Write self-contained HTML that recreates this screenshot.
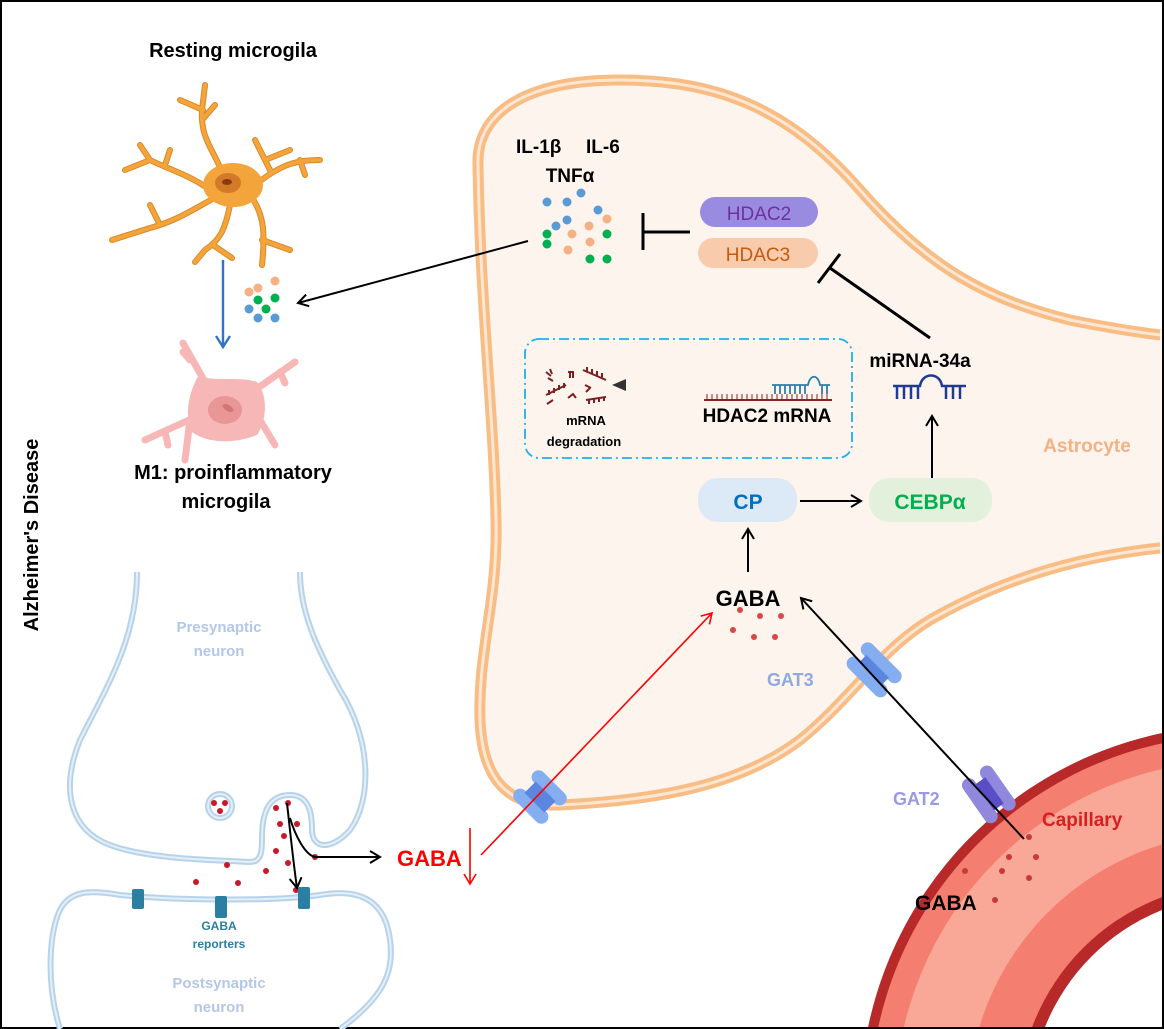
<!DOCTYPE html>
<html><head><meta charset="utf-8"><style>
html,body{margin:0;padding:0;background:#fff;width:1164px;height:1029px;overflow:hidden}
svg{display:block}
text{font-family:"Liberation Sans",sans-serif;font-weight:bold}
</style></head><body>
<svg width="1164" height="1029" viewBox="0 0 1164 1029" xmlns="http://www.w3.org/2000/svg">
<defs>
<marker id="ab" markerWidth="14" markerHeight="14" refX="11" refY="7" orient="auto" markerUnits="userSpaceOnUse"><path d="M1,1 L11,7 L1,13" fill="none" stroke="#000" stroke-width="2"/></marker>
<marker id="ar" markerWidth="14" markerHeight="14" refX="11" refY="7" orient="auto" markerUnits="userSpaceOnUse"><path d="M1,1 L11,7 L1,13" fill="none" stroke="#f00" stroke-width="1.6"/></marker>
<marker id="abl" markerWidth="16" markerHeight="16" refX="12" refY="8" orient="auto" markerUnits="userSpaceOnUse"><path d="M1,1 L12,8 L1,15" fill="none" stroke="#2e75c4" stroke-width="2.4"/></marker>
<linearGradient id="gg" x1="0" x2="1"><stop offset="0" stop-color="#333"/><stop offset="1" stop-color="#ddd"/></linearGradient>
</defs>
<rect x="1" y="1" width="1162" height="1027" fill="#fff" stroke="#000" stroke-width="2"/>

<!-- Capillary -->
<g>
<circle cx="1240" cy="1105" r="380" fill="#b82a2a"/>
<circle cx="1240" cy="1105" r="370" fill="#f47e6f"/>
<circle cx="1240" cy="1105" r="345" fill="#f9a898"/>
<circle cx="1240" cy="1105" r="272" fill="#f47e6f"/>
<circle cx="1240" cy="1105" r="222" fill="#b82a2a"/>
<circle cx="1240" cy="1105" r="210" fill="#fff"/>
</g>

<!-- Astrocyte -->
<path d="M478,165 C476,110 530,80 620,80 C720,80 790,110 860,190 C930,270 990,300 1070,320 C1120,330 1150,334 1170,336 L1170,547 C1080,555 1000,580 930,620 C880,650 850,700 800,740 C740,785 660,800 560,805 C500,808 482,770 480,720 C478,650 498,600 496,520 C494,420 480,300 478,165 Z" fill="#fdf4ee" stroke="#f8bd85" stroke-width="11"/>
<path d="M478,165 C476,110 530,80 620,80 C720,80 790,110 860,190 C930,270 990,300 1070,320 C1120,330 1150,334 1170,336 M1170,547 C1080,555 1000,580 930,620 C880,650 850,700 800,740 C740,785 660,800 560,805 C500,808 482,770 480,720 C478,650 498,600 496,520 C494,420 480,300 478,165" fill="none" stroke="#fde6d2" stroke-width="3"/>
<rect x="1160" y="330" width="5" height="225" fill="#fdf4ee"/>
<rect x="1" y="1" width="1162" height="1027" fill="none" stroke="#000" stroke-width="2"/>

<!-- channels -->
<g transform="translate(540,797) rotate(45)"><rect x="-22" y="-20" width="44" height="14" rx="7" fill="#85aef0"/><rect x="-22" y="6" width="44" height="14" rx="7" fill="#85aef0"/><rect x="-14" y="-8" width="28" height="16" fill="#5a86e0"/></g>
<g transform="translate(872,672) rotate(-45)"><rect x="-14" y="-26" width="14" height="52" rx="7" fill="#85aef0"/><rect x="6" y="-26" width="14" height="52" rx="7" fill="#85aef0"/><rect x="-2" y="-16" width="10" height="32" fill="#5a86e0"/></g>
<g transform="translate(988,795) rotate(-35)"><rect x="-17" y="-26" width="14" height="52" rx="7" fill="#8f88dd"/><rect x="5" y="-26" width="14" height="52" rx="7" fill="#8f88dd"/><rect x="-4" y="-16" width="12" height="32" fill="#5a4ec8"/></g>

<!-- Resting microglia -->
<text x="233" y="57" font-size="20" text-anchor="middle">Resting microgila</text>
<g stroke="#d98a2a" stroke-width="6" fill="none" stroke-linecap="round" stroke-linejoin="round">
<path d="M225,180 C215,150 200,140 202,110 L205,85 M202,120 L215,105 M203,110 L180,100"/>
<path d="M210,190 C190,175 170,170 150,160 L125,170 M165,165 L170,150 M150,160 L140,145"/>
<path d="M220,195 C200,205 180,220 150,228 L112,240 M160,225 L150,205"/>
<path d="M230,205 C225,230 220,240 205,250 L195,262 M213,245 L232,258"/>
<path d="M250,195 C265,215 265,235 262,265 M262,240 L290,250"/>
<path d="M255,185 C280,165 295,160 320,160 M300,160 L305,175 M270,170 L255,140 M265,160 L290,150"/>
</g>
<g stroke="#f3a43a" stroke-width="4" fill="none" stroke-linecap="round" stroke-linejoin="round">
<path d="M225,180 C215,150 200,140 202,110 L205,85 M202,120 L215,105 M203,110 L180,100"/>
<path d="M210,190 C190,175 170,170 150,160 L125,170 M165,165 L170,150 M150,160 L140,145"/>
<path d="M220,195 C200,205 180,220 150,228 L112,240 M160,225 L150,205"/>
<path d="M230,205 C225,230 220,240 205,250 L195,262 M213,245 L232,258"/>
<path d="M250,195 C265,215 265,235 262,265 M262,240 L290,250"/>
<path d="M255,185 C280,165 295,160 320,160 M300,160 L305,175 M270,170 L255,140 M265,160 L290,150"/>
</g>
<ellipse cx="233" cy="185" rx="30" ry="22" fill="#f3a43a"/>
<ellipse cx="228" cy="183" rx="13" ry="10" fill="#d37a2a"/>
<ellipse cx="227" cy="182" rx="5" ry="3" fill="#8a3a10"/>

<line x1="223" y1="260" x2="223" y2="347" stroke="#2e75c4" stroke-width="2.4" marker-end="url(#abl)"/>
<g>
<circle cx="249" cy="292" r="4.5" fill="#f4b183"/><circle cx="258" cy="288" r="4.5" fill="#f4b183"/><circle cx="275" cy="281" r="4.5" fill="#f4b183"/>
<circle cx="258" cy="300" r="4.5" fill="#00b050"/><circle cx="275" cy="298" r="4.5" fill="#00b050"/><circle cx="266" cy="309" r="4.5" fill="#00b050"/>
<circle cx="249" cy="309" r="4.5" fill="#5b9bd5"/><circle cx="258" cy="318" r="4.5" fill="#5b9bd5"/><circle cx="275" cy="318" r="4.5" fill="#5b9bd5"/>
</g>
<line x1="528" y1="241" x2="298" y2="303" stroke="#000" stroke-width="2" marker-end="url(#ab)"/>

<!-- M1 microglia -->
<g fill="#f7b7b7" stroke="#f7b7b7" stroke-width="7" stroke-linecap="round" stroke-linejoin="round">
<path d="M183,343 L205,382 M190,360 L183,352" fill="none"/>
<path d="M295,362 L255,390 M280,372 L285,383" fill="none"/>
<path d="M145,440 L200,415 M165,432 L168,445" fill="none"/>
<path d="M260,420 L275,445" fill="none"/>
<path d="M190,420 L185,460" fill="none"/>
<path d="M200,380 C215,385 240,380 255,385 C265,400 262,420 255,432 C235,440 210,440 195,430 C188,415 192,395 200,380 Z"/>
</g>
<ellipse cx="225" cy="410" rx="17" ry="14" fill="#e89696"/>
<ellipse cx="228" cy="408" rx="6" ry="3" fill="#d27676" transform="rotate(30 228 408)"/>
<text x="233" y="479" font-size="20" text-anchor="middle">M1: proinflammatory</text>
<text x="226" y="508" font-size="20" text-anchor="middle">microgila</text>

<text transform="translate(38,535) rotate(-90)" font-size="20" text-anchor="middle">Alzheimer's Disease</text>

<!-- cytokines -->
<text x="516" y="153" font-size="19">IL-1β</text><text x="586" y="153" font-size="19">IL-6</text>
<text x="570" y="182" font-size="19" text-anchor="middle">TNFα</text>
<g>
<circle cx="547" cy="202" r="4.5" fill="#5b9bd5"/><circle cx="567" cy="202" r="4.5" fill="#5b9bd5"/><circle cx="581" cy="193" r="4.5" fill="#5b9bd5"/><circle cx="598" cy="210" r="4.5" fill="#5b9bd5"/><circle cx="567" cy="220" r="4.5" fill="#5b9bd5"/><circle cx="556" cy="226" r="4.5" fill="#5b9bd5"/>
<circle cx="607" cy="219" r="4.5" fill="#f4b183"/><circle cx="589" cy="226" r="4.5" fill="#f4b183"/><circle cx="572" cy="234" r="4.5" fill="#f4b183"/><circle cx="590" cy="242" r="4.5" fill="#f4b183"/><circle cx="568" cy="250" r="4.5" fill="#f4b183"/>
<circle cx="547" cy="234" r="4.5" fill="#00b050"/><circle cx="547" cy="244" r="4.5" fill="#00b050"/><circle cx="607" cy="234" r="4.5" fill="#00b050"/><circle cx="590" cy="259" r="4.5" fill="#00b050"/><circle cx="607" cy="259" r="4.5" fill="#00b050"/>
</g>
<line x1="643" y1="213" x2="643" y2="250" stroke="#000" stroke-width="3"/>
<line x1="643" y1="232" x2="690" y2="232" stroke="#000" stroke-width="3"/>

<rect x="700" y="197" width="118" height="30" rx="15" fill="#998be0"/>
<text x="759" y="220" font-size="19" text-anchor="middle" fill="#7030a0" style="font-weight:normal">HDAC2</text>
<rect x="698" y="238" width="120" height="30" rx="15" fill="#f8cbad"/>
<text x="758" y="261" font-size="19" text-anchor="middle" fill="#c55a11" style="font-weight:normal">HDAC3</text>

<line x1="930" y1="338" x2="830" y2="268" stroke="#000" stroke-width="3"/>
<line x1="818" y1="283" x2="840" y2="254" stroke="#000" stroke-width="3"/>

<text x="920" y="367" font-size="19" text-anchor="middle">miRNA-34a</text>
<g stroke="#1f3a93" stroke-width="2.5" fill="none">
<path d="M893,386 L920,386 C922,372 940,372 942,386 L966,386"/>
<path d="M897,386 V399 M904,386 V399 M911,386 V399 M918,386 V399 M946,386 V399 M953,386 V399 M960,386 V399"/>
</g>
<line x1="932" y1="480" x2="932" y2="416" stroke="#000" stroke-width="2" marker-end="url(#ab)"/>

<!-- dashed box -->
<rect x="525" y="339" width="327" height="119" rx="14" fill="none" stroke="#1cb0ee" stroke-width="1.8" stroke-dasharray="10,4,2,4"/>
<g stroke="#7f1f1f" stroke-width="2" fill="none">
<path d="M546,395 L566,385 M549,395 v-5 M554,393 v-5 M559,390 v-5 M564,388 v-5"/>
<path d="M583,370 L606,380 M587,372 v-5 M592,374 v-5 M597,376 v-5 M602,378 v-5"/>
<path d="M586,400 L606,397 M589,400 v4 M594,399 v4 M599,398 v4 M604,397 v4"/>
<path d="M568,372 h6 M570,372 v6 M573,372 v6 M548,378 l5,3 M547,404 l6,-4 M568,398 l5,-4 l3,4 M585,385 l6,3 M586,392 l4,-4 M546,372 l5,4 M550,369 l2,5"/>
</g>
<text x="586" y="425" font-size="13" text-anchor="middle">mRNA</text>
<text x="584" y="446" font-size="13" text-anchor="middle">degradation</text>
<line x1="686" y1="385" x2="614" y2="385" stroke="url(#gg)" stroke-width="3"/>
<path d="M612,385 L626,379 L626,391 Z" fill="#333"/>
<g>
<line x1="704" y1="400" x2="832" y2="400" stroke="#8b2323" stroke-width="2"/>
<path d="M707,400 v-6 M712,400 v-6 M717,400 v-6 M722,400 v-6 M727,400 v-6 M732,400 v-6 M737,400 v-6 M742,400 v-6 M747,400 v-6 M752,400 v-6 M757,400 v-6 M762,400 v-6 M767,400 v-6 M772,400 v-6 M777,400 v-6 M782,400 v-6 M787,400 v-6 M792,400 v-6 M797,400 v-6 M802,400 v-6 M807,400 v-6 M812,400 v-6 M817,400 v-6 M822,400 v-6 M827,400 v-6" stroke="#8b2323" stroke-width="1"/>
<path d="M772,385 L808,385 C810,374 818,374 820,385 L830,385 M775,385 v9 M780,385 v9 M785,385 v9 M790,385 v9 M795,385 v9 M800,385 v9 M805,385 v9 M822,385 v9 M827,385 v9" stroke="#2e7fa8" stroke-width="1.8" fill="none"/>
</g>
<text x="767" y="422" font-size="19" text-anchor="middle">HDAC2 mRNA</text>

<text x="1087" y="452" font-size="19" text-anchor="middle" fill="#f4b183">Astrocyte</text>

<rect x="698" y="478" width="99" height="44" rx="20" fill="#dce9f6"/>
<text x="748" y="509" font-size="21" text-anchor="middle" fill="#0070c0">CP</text>
<rect x="869" y="478" width="123" height="44" rx="20" fill="#e3f1dc"/>
<text x="930" y="509" font-size="21" text-anchor="middle" fill="#00b050">CEBPα</text>
<line x1="800" y1="501" x2="861" y2="501" stroke="#000" stroke-width="2" marker-end="url(#ab)"/>
<line x1="748" y1="572" x2="748" y2="529" stroke="#000" stroke-width="2" marker-end="url(#ab)"/>

<text x="748" y="606" font-size="22" text-anchor="middle">GABA</text>
<g fill="#d94848"><circle cx="740" cy="610" r="3"/><circle cx="760" cy="616" r="3"/><circle cx="781" cy="616" r="3"/><circle cx="733" cy="630" r="3"/><circle cx="754" cy="637" r="3"/><circle cx="775" cy="637" r="3"/></g>
<line x1="481" y1="855" x2="712" y2="613" stroke="#f00" stroke-width="1.6" marker-end="url(#ar)"/>
<line x1="1024" y1="839" x2="801" y2="598" stroke="#000" stroke-width="2" marker-end="url(#ab)"/>

<text x="767" y="686" font-size="18" fill="#8faadc">GAT3</text>
<text x="893" y="805" font-size="18" fill="#9999e6">GAT2</text>
<text x="1042" y="826" font-size="19" fill="#d42020">Capillary</text>
<text x="915" y="910" font-size="21">GABA</text>
<g fill="#c83a3a"><circle cx="1029" cy="837" r="3"/><circle cx="1009" cy="857" r="3"/><circle cx="1036" cy="857" r="3"/><circle cx="965" cy="871" r="3"/><circle cx="1002" cy="871" r="3"/><circle cx="1029" cy="878" r="3"/><circle cx="995" cy="900" r="3"/></g>

<!-- synapse -->
<g fill="none" stroke="#b7d3ea" stroke-width="6">
<path d="M137,572 C137,640 105,690 80,740 C60,790 70,830 110,845 C150,860 220,860 250,862 C262,862 262,850 262,838 C262,810 270,795 290,795 C310,795 312,815 312,830 C312,848 330,852 350,830 C372,800 372,740 340,690 C315,645 300,610 300,572"/>
<path d="M60,1029 C45,980 50,930 60,910 C70,890 90,890 120,895 C170,900 270,902 320,895 C360,888 385,900 390,940 C395,975 380,1000 340,1029"/>
<circle cx="220" cy="806" r="12"/>
</g>
<g fill="none" stroke="#e5eff8" stroke-width="2">
<path d="M137,572 C137,640 105,690 80,740 C60,790 70,830 110,845 C150,860 220,860 250,862 C262,862 262,850 262,838 C262,810 270,795 290,795 C310,795 312,815 312,830 C312,848 330,852 350,830 C372,800 372,740 340,690 C315,645 300,610 300,572"/>
<path d="M60,1029 C45,980 50,930 60,910 C70,890 90,890 120,895 C170,900 270,902 320,895 C360,888 385,900 390,940 C395,975 380,1000 340,1029"/>
<circle cx="220" cy="806" r="12"/>
</g>
<g fill="#c8182a"><circle cx="214" cy="803" r="3"/><circle cx="225" cy="803" r="3"/><circle cx="220" cy="811" r="3"/>
<circle cx="288" cy="803" r="3"/><circle cx="276" cy="808" r="3"/><circle cx="280" cy="824" r="3"/><circle cx="297" cy="824" r="3"/><circle cx="284" cy="836" r="3"/><circle cx="276" cy="851" r="3"/><circle cx="315" cy="857" r="3"/><circle cx="227" cy="865" r="3"/><circle cx="288" cy="863" r="3"/><circle cx="266" cy="871" r="3"/><circle cx="196" cy="882" r="3"/><circle cx="238" cy="883" r="3"/><circle cx="296" cy="890" r="3"/></g>
<g fill="#2b7fa3"><rect x="132" y="889" width="12" height="20" rx="2"/><rect x="215" y="896" width="12" height="22" rx="2"/><rect x="298" y="887" width="12" height="22" rx="2"/></g>
<path d="M287,803 C290,830 293,860 297,888" fill="none" stroke="#000" stroke-width="2" marker-end="url(#ab)"/>
<path d="M290,818 C295,835 305,855 315,857 L380,857" fill="none" stroke="#000" stroke-width="2" marker-end="url(#ab)"/>
<text x="397" y="866" font-size="22" fill="#f00">GABA</text>
<line x1="470" y1="828" x2="470" y2="884" stroke="#f00" stroke-width="1.6" marker-end="url(#ar)"/>
<text x="219" y="930" font-size="12" text-anchor="middle" fill="#2b7fa3">GABA</text>
<text x="219" y="948" font-size="12" text-anchor="middle" fill="#2b7fa3">reporters</text>
<text x="219" y="632" font-size="15" text-anchor="middle" fill="#b4c7e7">Presynaptic</text>
<text x="219" y="656" font-size="15" text-anchor="middle" fill="#b4c7e7">neuron</text>
<text x="219" y="988" font-size="15" text-anchor="middle" fill="#b4c7e7">Postsynaptic</text>
<text x="219" y="1012" font-size="15" text-anchor="middle" fill="#b4c7e7">neuron</text>
</svg>
</body></html>
